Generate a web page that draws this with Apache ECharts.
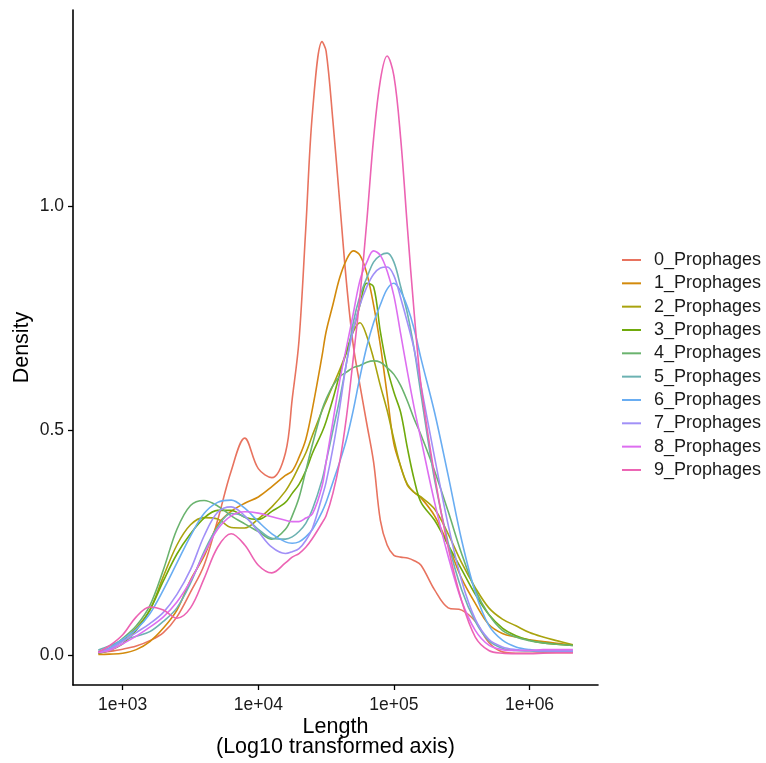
<!DOCTYPE html>
<html><head><meta charset="utf-8">
<script src="https://cdn.jsdelivr.net/npm/echarts@6/dist/echarts.min.js"></script>
<style>html,body{margin:0;padding:0;background:#fff}#c{width:766px;height:763px}</style>
</head><body><div id="c"></div>
<script>
// x positions in log10(Length)
const lengthLog10 = [2.82,2.9,3.0,3.1,3.2,3.3,3.4,3.5,3.6,3.7,3.8,3.9,4.0,4.1,4.2,4.25,4.3,4.35,4.4,4.47,4.5,4.55,4.6,4.65,4.7,4.75,4.8,4.85,4.9,4.95,5.0,5.05,5.1,5.15,5.2,5.3,5.4,5.5,5.6,5.7,5.8,5.9,6.0,6.1,6.2,6.32];
const seriesNames = ['0_Prophages','1_Prophages','2_Prophages','3_Prophages','4_Prophages','5_Prophages','6_Prophages','7_Prophages','8_Prophages','9_Prophages'];
const p0 = [0.005,0.008,0.013,0.02,0.032,0.05,0.085,0.14,0.2,0.3,0.41,0.483,0.415,0.395,0.45,0.57,0.70,0.95,1.21,1.366,1.345,1.19,1.01,0.83,0.69,0.60,0.515,0.43,0.30,0.245,0.222,0.218,0.216,0.21,0.20,0.145,0.105,0.10,0.075,0.028,0.007,0.004,0.004,0.005,0.005,0.005];
const p1 = [0.001,0.002,0.004,0.012,0.03,0.06,0.10,0.167,0.22,0.29,0.32,0.338,0.352,0.375,0.40,0.41,0.44,0.48,0.55,0.666,0.72,0.78,0.84,0.88,0.90,0.89,0.85,0.78,0.69,0.58,0.47,0.42,0.378,0.362,0.35,0.31,0.245,0.17,0.115,0.068,0.048,0.04,0.034,0.03,0.026,0.022];
const p2 = [0.004,0.012,0.032,0.06,0.10,0.175,0.245,0.29,0.306,0.303,0.284,0.283,0.303,0.33,0.365,0.39,0.42,0.45,0.49,0.544,0.565,0.60,0.635,0.675,0.72,0.74,0.71,0.66,0.60,0.545,0.48,0.42,0.38,0.362,0.352,0.325,0.27,0.205,0.15,0.105,0.08,0.065,0.05,0.04,0.032,0.023];
const p3 = [0.004,0.01,0.025,0.055,0.10,0.165,0.225,0.27,0.305,0.322,0.322,0.307,0.302,0.32,0.34,0.36,0.38,0.41,0.45,0.496,0.52,0.57,0.625,0.675,0.724,0.78,0.828,0.82,0.72,0.64,0.585,0.54,0.46,0.39,0.34,0.30,0.245,0.19,0.135,0.09,0.06,0.043,0.033,0.027,0.024,0.021];
const p4 = [0.007,0.015,0.037,0.065,0.11,0.19,0.28,0.333,0.344,0.332,0.31,0.292,0.275,0.258,0.28,0.31,0.35,0.41,0.47,0.546,0.57,0.60,0.62,0.63,0.64,0.645,0.652,0.655,0.652,0.64,0.625,0.60,0.565,0.525,0.49,0.41,0.32,0.225,0.145,0.09,0.055,0.04,0.032,0.027,0.024,0.021];
const p5 = [0.011,0.02,0.033,0.042,0.052,0.075,0.105,0.16,0.23,0.285,0.315,0.307,0.28,0.26,0.258,0.263,0.275,0.293,0.325,0.39,0.43,0.50,0.57,0.65,0.74,0.80,0.84,0.875,0.89,0.895,0.875,0.82,0.76,0.68,0.58,0.39,0.25,0.145,0.075,0.032,0.015,0.01,0.009,0.008,0.008,0.008];
const p6 = [0.008,0.015,0.035,0.057,0.092,0.145,0.205,0.265,0.315,0.34,0.345,0.327,0.297,0.27,0.252,0.249,0.252,0.263,0.28,0.319,0.34,0.385,0.43,0.48,0.545,0.62,0.687,0.74,0.78,0.815,0.828,0.81,0.775,0.725,0.66,0.54,0.40,0.255,0.14,0.066,0.033,0.018,0.012,0.01,0.01,0.01];
const p7 = [0.006,0.013,0.03,0.05,0.07,0.095,0.135,0.19,0.265,0.318,0.33,0.31,0.275,0.24,0.226,0.23,0.237,0.255,0.283,0.352,0.385,0.46,0.55,0.65,0.724,0.78,0.82,0.848,0.862,0.864,0.845,0.795,0.74,0.68,0.60,0.44,0.29,0.165,0.08,0.035,0.018,0.012,0.01,0.009,0.009,0.009];
const p8 = [0.005,0.01,0.025,0.042,0.062,0.085,0.118,0.165,0.225,0.28,0.31,0.319,0.316,0.308,0.30,0.297,0.297,0.305,0.315,0.376,0.43,0.52,0.61,0.685,0.76,0.835,0.875,0.90,0.89,0.855,0.80,0.715,0.63,0.55,0.48,0.34,0.22,0.12,0.055,0.022,0.012,0.01,0.01,0.012,0.012,0.012];
const p9 = [0.007,0.02,0.045,0.085,0.107,0.10,0.082,0.105,0.17,0.24,0.27,0.245,0.20,0.183,0.205,0.218,0.226,0.24,0.26,0.294,0.31,0.36,0.43,0.53,0.66,0.80,0.966,1.15,1.28,1.334,1.29,1.15,0.95,0.76,0.60,0.40,0.24,0.12,0.04,0.01,0.004,0.003,0.003,0.004,0.005,0.005];
const densities = [p0,p1,p2,p3,p4,p5,p6,p7,p8,p9];
const xTickValues = [3,4,5,6];
const yTickValues = [0,0.5,1.0];

const colors = ['#E8735F','#D38A0C','#A9A30E','#70AA0C','#6AB36E','#6CB2B2','#69ADF2','#A190F7','#DD6EF0','#EC63B3'];
const FONT = "'Liberation Sans', Arial, Helvetica, sans-serif";
const TXT = '#1a1a1a';

const chart = echarts.init(document.getElementById('c'), null, {renderer:'canvas'});
chart.setOption({
  animation:false,
  backgroundColor:'#fff',
  textStyle:{fontFamily:FONT},
  grid:{left:73,right:168,top:10,bottom:78,containLabel:false,outerBoundsMode:'none'},
  legend:{
    orient:'vertical', left:622, top:250, padding:0,
    itemWidth:19, itemHeight:2, itemGap:3.33, icon:'rect',
    textStyle:{fontSize:18, lineHeight:20, color:TXT, fontFamily:FONT, padding:[0,0,0,8]},
    data:seriesNames
  },
  xAxis:{
    type:'value', min:2.6335, max:6.505,
    axisLine:{show:true,onZero:false,lineStyle:{color:'#000',width:1.6}},
    axisTick:{show:true,length:5,customValues:xTickValues,lineStyle:{color:'#000',width:1.3}},
    axisLabel:{customValues:xTickValues,formatter:v=>'1e+0'+v,fontSize:17.5,color:TXT,margin:11,fontFamily:FONT},
    splitLine:{show:false},
    name:'Length\n(Log10 transformed axis)', nameLocation:'middle', nameGap:32, nameMoveOverlap:false,
    nameTextStyle:{fontSize:21.5,lineHeight:20,color:'#000',fontFamily:FONT}
  },
  yAxis:{
    type:'value', min:-0.0668, max:1.4365,
    axisLine:{show:true,onZero:false,lineStyle:{color:'#000',width:1.6}},
    axisTick:{show:true,length:5,customValues:yTickValues,lineStyle:{color:'#000',width:1.3}},
    axisLabel:{customValues:yTickValues,formatter:v=>v.toFixed(1),fontSize:17.5,color:TXT,margin:9,fontFamily:FONT},
    splitLine:{show:false},
    name:'Density', nameLocation:'middle', nameGap:40, nameMoveOverlap:false,
    nameTextStyle:{fontSize:21.5,color:'#000',fontFamily:FONT}
  },
  series: densities.map((arr,k)=>({
    name:seriesNames[k], type:'line', showSymbol:false, smooth:0.35,
    color:colors[k],
    lineStyle:{width:1.6,color:colors[k]},
    data: lengthLog10.map((x,i)=>[x,arr[i]])
  }))
});
</script></body></html>
